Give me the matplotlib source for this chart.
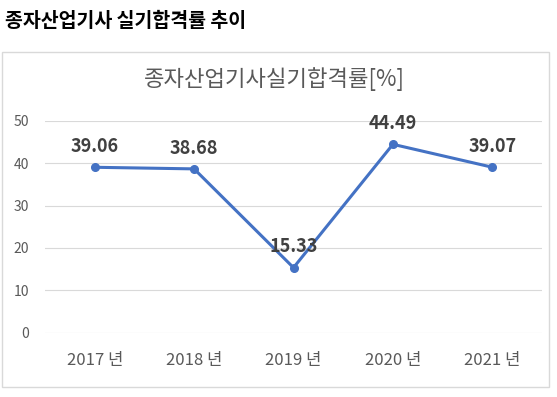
import matplotlib
matplotlib.use("Agg")
import matplotlib.pyplot as plt
from matplotlib.patches import Rectangle

plt.rcParams['font.family'] = ['Noto Sans CJK KR', 'DejaVu Sans']

years = ["2017 년", "2018 년", "2019 년", "2020 년", "2021 년"]
rates = [39.06, 38.68, 15.33, 44.49, 39.07]
y_ticks = [0, 10, 20, 30, 40, 50]

W, H = 557, 397
fig = plt.figure(figsize=(W / 100, H / 100), dpi=100)
fig.patch.set_facecolor("white")

# chart frame (behind the axes)
fig.patches.append(Rectangle((2 / W, 10 / H), 547 / W, 335 / H,
                             transform=fig.transFigure, facecolor="white",
                             edgecolor="#D9D9D9", linewidth=1, zorder=-1))

fig.text(5 / W, 1 - 21 / H, "종자산업기사 실기합격률 추이", ha="left", va="center",
         fontsize=14, fontweight="bold", color="black")
fig.text(274.5 / W, 1 - 79 / H, "종자산업기사실기합격률[%]", ha="center", va="center",
         fontsize=16, color="#595959")

ax = fig.add_axes([45 / W, 1 - 332.5 / H, 497 / W, 211.5 / H])
ax.set_facecolor("none")
x = range(len(years))
ax.plot(x, rates, color="#4472C4", linewidth=2.2, marker="o", markersize=5.5,
        solid_capstyle="round", zorder=3)
for xi, v in zip(x, rates):
    ax.annotate(f"{v:.2f}", (xi, v), xytext=(0, 15), textcoords="offset points",
                ha="center", va="center", fontsize=13, fontweight="bold",
                color="#404040")

ax.set_xlim(-0.5, len(years) - 0.5)
ax.set_ylim(0, 50)
ax.set_xticks(list(x))
ax.set_xticklabels(years)
ax.set_yticks(y_ticks)
ax.grid(axis="y", color="#D9D9D9", linewidth=0.8)
ax.set_axisbelow(True)
for s in ax.spines.values():
    s.set_visible(False)
ax.tick_params(axis="x", length=0, pad=14, labelsize=12, labelcolor="#595959")
ax.tick_params(axis="y", length=0, pad=11.5, labelsize=10, labelcolor="#595959")

fig.savefig("out.png", dpi=100)
